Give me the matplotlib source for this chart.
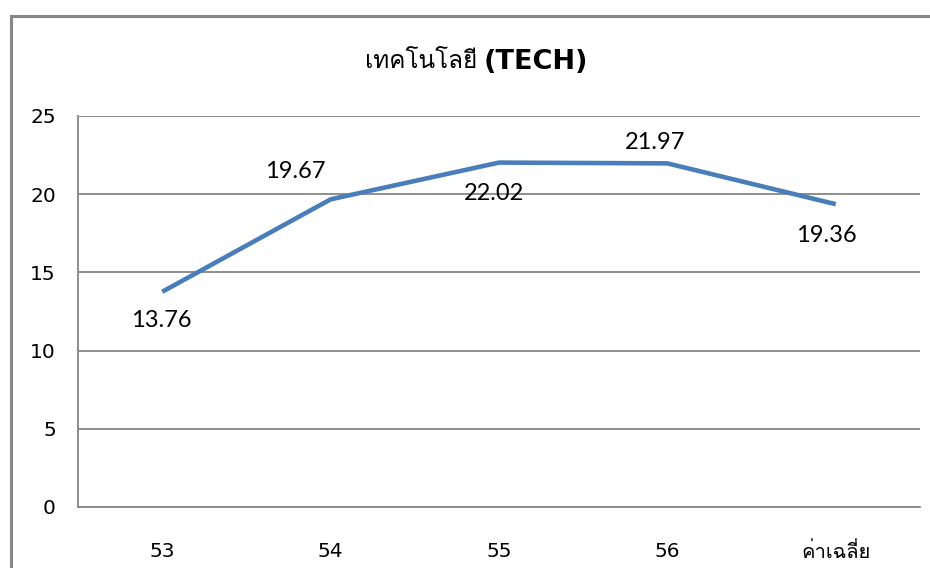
import matplotlib
matplotlib.use("Agg")
import matplotlib.pyplot as plt
from matplotlib import font_manager
from matplotlib.ft2font import FT2Font
from matplotlib.patches import Rectangle

# values
categories = ["53", "54", "55", "56", "ค่าเฉลี่ย"]
tech_scores = [13.76, 19.67, 22.02, 21.97, 19.36]
y_ticks = [0, 5, 10, 15, 20, 25]
title_thai = "เทคโนโลยี"
title_code = "(TECH)"

# where each data label sits relative to its point (pixels)
label_offsets = [(-1, -29), (-35, 28), (-5, -31), (-12, 21), (-9, -31)]


def thai_families():
    # look for any installed family that carries Thai glyphs
    found = []
    for entry in font_manager.fontManager.ttflist:
        try:
            cmap = FT2Font(entry.fname).get_charmap()
        except Exception:
            continue
        if 0x0E04 in cmap and 0x0E40 in cmap and entry.name not in found:
            found.append(entry.name)
    return found


thai = thai_families()
plt.rcParams['font.family'] = ['DejaVu Sans'] + thai + ['Noto Sans', 'Liberation Sans']

grid_grey = "#868686"
line_blue = "#4A7EBB"

fig = plt.figure(figsize=(9.30, 5.68), dpi=100)
ax = fig.add_axes([0.0839, 0.1074, 0.9053, 0.6884])

x = list(range(len(categories)))
ax.plot(x, tech_scores, color=line_blue, linewidth=3.3, solid_capstyle='butt')

for xi, val, off in zip(x, tech_scores, label_offsets):
    ax.annotate(f"{val:.2f}", (xi, val), xytext=off, textcoords='offset pixels',
                ha='center', va='center', fontsize=17, color='black',
                family=['Lato', 'DejaVu Sans'])

ax.set_xlim(-0.5, len(categories) - 0.5)
ax.set_ylim(0, 25)
ax.set_yticks(y_ticks)
ax.set_xticks(x)
ax.set_xticklabels(categories)
for lbl in ax.get_xticklabels()[-1:]:
    lbl.set_fontsize(11)
ax.tick_params(axis='both', length=0, labelsize=14.5, colors='black')
ax.tick_params(axis='x', pad=25)
ax.tick_params(axis='y', pad=16)

ax.grid(axis='y', color=grid_grey, linewidth=1.3)
ax.set_axisbelow(True)
for side in ['top', 'right']:
    ax.spines[side].set_visible(False)
for side in ['left', 'bottom']:
    ax.spines[side].set_color(grid_grey)
    ax.spines[side].set_linewidth(1.3)

# title: thai word in regular weight, code in bold
fig.text(477 / 930, 0.891, title_thai, ha='right', va='center', fontsize=17.5,
         family=thai + ['DejaVu Sans'])
fig.text(484 / 930, 0.891, title_code, ha='left', va='center', fontsize=19.5,
         fontweight='bold', family=['DejaVu Sans'])

# outer chart frame, cut off by the right and bottom image edges
fig.patches.append(Rectangle((11 / 930, -0.05), 1.0, 1 - 16 / 568 + 0.05,
                             transform=fig.transFigure, fill=False,
                             edgecolor=grid_grey, linewidth=2.2))

fig.savefig("out.png", dpi=100)
